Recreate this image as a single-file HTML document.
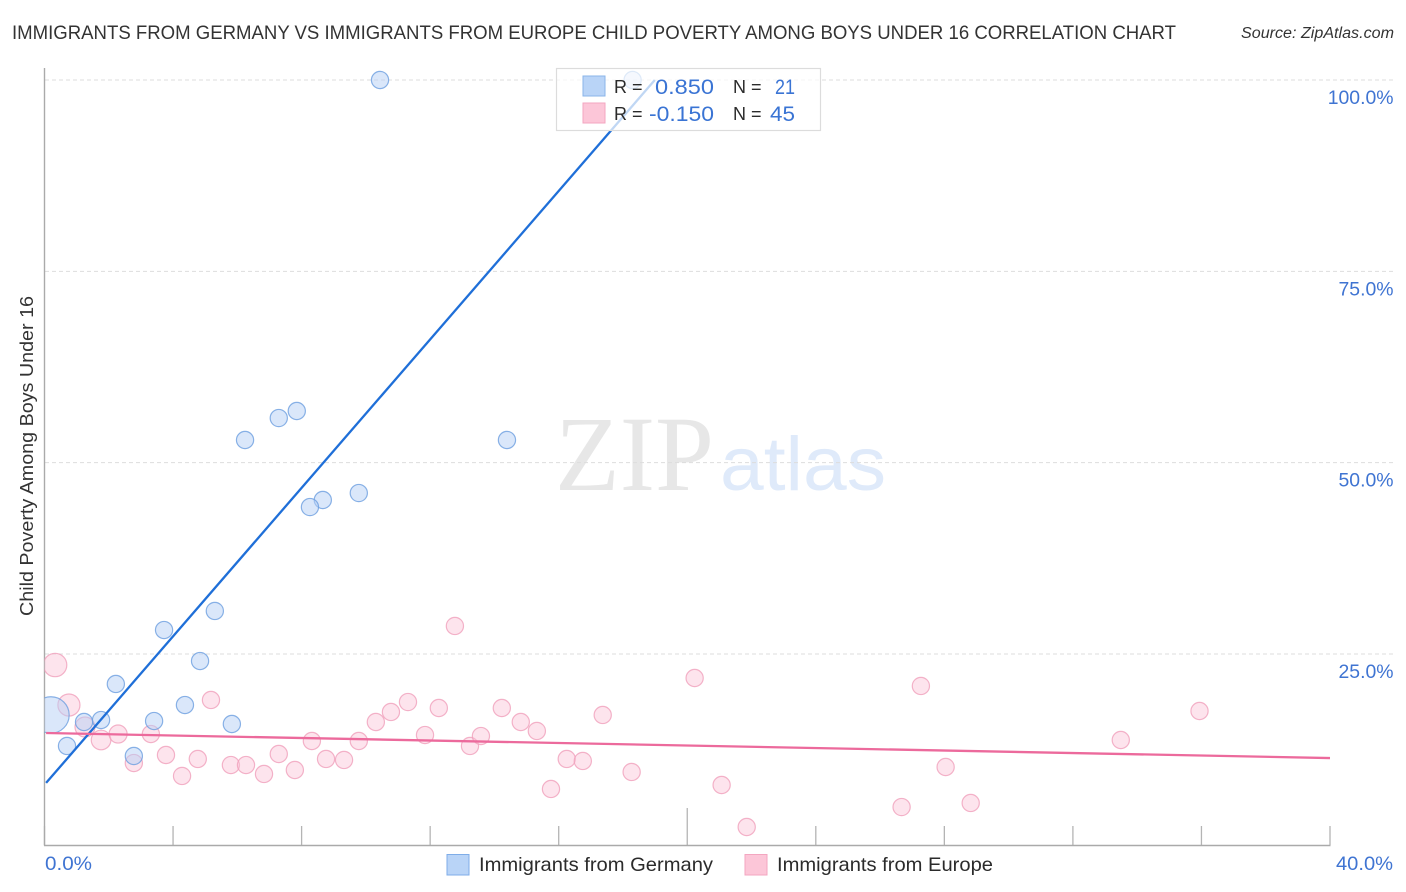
<!DOCTYPE html>
<html lang="en">
<head>
<meta charset="utf-8">
<title>Immigrants from Germany vs Immigrants from Europe Child Poverty Among Boys Under 16 Correlation Chart</title>
<style>
html,body{margin:0;padding:0;background:#fff;}
body{width:1406px;height:892px;overflow:hidden;}
svg{display:block;font-family:"Liberation Sans",sans-serif;}
</style>
</head>
<body>
<svg id="chart" width="1406" height="892" viewBox="0 0 1406 892" xmlns="http://www.w3.org/2000/svg">
  <defs>
    <clipPath id="plot-clip"><rect x="44.5" y="60" width="1350" height="785"/></clipPath>
  </defs>
  <rect x="0" y="0" width="1406" height="892" fill="#ffffff"/>
  <text x="12" y="39" font-size="19.5" fill="#333333" textLength="1164" lengthAdjust="spacingAndGlyphs">IMMIGRANTS FROM GERMANY VS IMMIGRANTS FROM EUROPE CHILD POVERTY AMONG BOYS UNDER 16 CORRELATION CHART</text>
  <text x="1241" y="38" font-size="15.5" font-style="italic" fill="#333333" textLength="153" lengthAdjust="spacingAndGlyphs">Source: ZipAtlas.com</text>

  <g>
    <text x="555" y="490" font-family="'Liberation Serif',serif" font-size="107" fill="#e7e7e7" textLength="159" lengthAdjust="spacingAndGlyphs">ZIP</text>
    <text x="720" y="490" font-size="76" fill="#dfeafa" textLength="166" lengthAdjust="spacingAndGlyphs">atlas</text>
  </g>

  <g id="grid"></g>
  <g id="y-labels"></g>
  <g id="x-ticks"></g>
  <line x1="44.5" y1="68" x2="44.5" y2="845.5" stroke="#aaaaaa" stroke-width="1.4"/>
  <line x1="44" y1="845.5" x2="1330.5" y2="845.5" stroke="#aaaaaa" stroke-width="1.4"/>
  <text transform="translate(33,616) rotate(-90)" font-size="18.5" fill="#333333" textLength="320" lengthAdjust="spacingAndGlyphs">Child Poverty Among Boys Under 16</text>

  <g id="points" clip-path="url(#plot-clip)"></g>
  <g id="trends"></g>

  <g>
    <rect x="556.5" y="68.5" width="264" height="62" fill="#ffffff" fill-opacity="0.72" stroke="#dcdcdc" stroke-width="1.2"/>
    <rect x="583" y="76" width="22" height="20" fill="#b9d4f7" stroke="#8ab4ea" stroke-width="1"/>
    <rect x="583" y="103" width="22" height="20" fill="#fcc6d8" stroke="#f3a6c0" stroke-width="1"/>
    <text x="614" y="93" font-size="18" fill="#2b2b2b">R =</text>
    <text x="614" y="120" font-size="18" fill="#2b2b2b">R =</text>
    <text x="655" y="94" font-size="21.5" fill="#3a74d4" textLength="59" lengthAdjust="spacingAndGlyphs">0.850</text>
    <text x="649" y="121" font-size="21.5" fill="#3a74d4" textLength="65" lengthAdjust="spacingAndGlyphs">-0.150</text>
    <text x="733" y="93" font-size="18" fill="#2b2b2b">N =</text>
    <text x="733" y="120" font-size="18" fill="#2b2b2b">N =</text>
    <text x="775" y="94" font-size="21.5" fill="#3a74d4" textLength="20" lengthAdjust="spacingAndGlyphs">21</text>
    <text x="770" y="121" font-size="21.5" fill="#3a74d4" textLength="25" lengthAdjust="spacingAndGlyphs">45</text>
  </g>

  <text x="45" y="870" font-size="19" fill="#3f74d2" textLength="47" lengthAdjust="spacingAndGlyphs">0.0%</text>
  <text x="1336" y="870" font-size="19" fill="#3f74d2" textLength="57" lengthAdjust="spacingAndGlyphs">40.0%</text>

  <g>
    <g>
      <rect x="447" y="854.5" width="22" height="20.5" fill="#b9d4f7" stroke="#7fade8" stroke-width="1"/>
      <text x="479" y="871" font-size="19.5" fill="#2b2b2b" textLength="234" lengthAdjust="spacingAndGlyphs">Immigrants from Germany</text>
    </g>
    <g>
      <rect x="745" y="854.5" width="22" height="20.5" fill="#fcc6d8" stroke="#f3a6c0" stroke-width="1"/>
      <text x="777" y="871" font-size="19.5" fill="#2b2b2b" textLength="216" lengthAdjust="spacingAndGlyphs">Immigrants from Europe</text>
    </g>
  </g>
</svg>
<script>
// Chart data
var yTickValues = [25, 50, 75, 100];
var yTickLabels = ['25.0%', '50.0%', '75.0%', '100.0%'];
var xTickValues = [0, 4, 8, 12, 16, 20, 24, 28, 32, 36, 40];

var germanyX = [10.44, 18.30, 6.24, 7.29, 7.85, 14.39, 9.78, 8.66, 8.26, 5.30, 3.72, 4.84, 2.22, 4.37, 3.41, 5.83, 1.76, 1.23, 0.70, 2.78, 0.20];
var germanyY = [100, 100, 52.96, 55.83, 56.75, 52.96, 46.03, 45.12, 44.20, 30.62, 28.13, 24.08, 21.08, 18.33, 16.24, 15.85, 16.37, 16.11, 12.98, 11.67, 17.03];
var germanyWeight = [1, 1, 1, 1, 1, 1, 1, 1, 1, 1, 1, 1, 1, 1, 1, 1, 1, 1, 1, 1, 4.5];

var europeX = [0.33, 0.76, 1.26, 1.76, 2.29, 2.78, 3.31, 3.78, 4.28, 4.77, 5.18, 5.80, 6.27, 6.83, 7.29, 7.79, 8.32, 8.76, 9.32, 9.78, 10.31, 10.78, 11.31, 11.84, 12.27, 12.77, 13.24, 13.58, 14.23, 14.82, 15.32, 15.76, 16.25, 16.75, 17.37, 18.27, 20.23, 21.07, 21.85, 26.67, 27.27, 28.04, 28.82, 33.49, 35.94];
var europeY = [23.56, 18.33, 15.46, 13.76, 14.54, 10.75, 14.54, 11.80, 9.06, 11.28, 18.99, 10.49, 10.49, 9.32, 11.93, 9.84, 13.63, 11.28, 11.15, 13.63, 16.11, 17.42, 18.72, 14.41, 17.94, 28.66, 12.98, 14.28, 17.94, 16.11, 14.94, 7.36, 11.28, 11.02, 17.03, 9.58, 21.86, 7.88, 2.39, 5.00, 20.82, 10.23, 5.53, 13.76, 17.55];
var europeWeight = [1.85, 1.65, 1.35, 1.3, 1.1, 1, 1, 1, 1, 1, 1, 1, 1, 1, 1, 1, 1, 1, 1, 1, 1, 1, 1, 1, 1, 1, 1, 1, 1, 1, 1, 1, 1, 1, 1, 1, 1, 1, 1, 1, 1, 1, 1, 1, 1];

var germanyTrendX = [0.05, 18.99];
var germanyTrendY = [8.15, 100];
var europeTrendX = [0.05, 40];
var europeTrendY = [14.67, 11.4];

// Axis functions
function xScale(v) { return 44.5 + v * (1330 - 44.5) / 40; }
function yScale(v) { return 845.3 - v * (845.3 - 80) / 100; }
function radius(w) { return 8.6 * Math.sqrt(w); }

var NS = 'http://www.w3.org/2000/svg';
function make(tag, parent, attrs) {
  var el = document.createElementNS(NS, tag);
  for (var k in attrs) { el.setAttribute(k, attrs[k]); }
  parent.appendChild(el);
  return el;
}

var gridGroup = document.getElementById('grid');
var labelGroup = document.getElementById('y-labels');
yTickValues.forEach(function (v, i) {
  var gl = make('line', gridGroup, { x1: 45, x2: 1393, y1: yScale(v), y2: yScale(v), stroke: '#dddddd', 'stroke-width': 1, 'stroke-dasharray': '4 3' });
  
  
  var t = make('text', labelGroup, { x: 1393.5, y: yScale(v) + 24, 'font-size': 19.4, fill: '#3f74d2', 'text-anchor': 'end' });
  t.textContent = yTickLabels[i];
  
  
});

var tickGroup = document.getElementById('x-ticks');
xTickValues.forEach(function (v) {
  var top = (v === 20) ? 808 : 826;
  var tk = make('line', tickGroup, { x1: xScale(v), x2: xScale(v), y1: top, y2: 845, stroke: '#b4b4b4', 'stroke-width': 1.3 });
  
  
});

var pointGroup = document.getElementById('points');
europeX.forEach(function (v, i) {
  var c = make('circle', pointGroup, { cx: xScale(v), cy: yScale(europeY[i]), r: radius(europeWeight[i]), fill: '#fbc4d6', 'fill-opacity': 0.45, stroke: '#f0a0bc', 'stroke-opacity': 0.8, 'stroke-width': 1.2 });
  
  
});
germanyX.forEach(function (v, i) {
  var c = make('circle', pointGroup, { cx: xScale(v), cy: yScale(germanyY[i]), r: radius(germanyWeight[i]), fill: '#b5d0f5', 'fill-opacity': 0.5, stroke: '#6d9fe0', 'stroke-opacity': 0.8, 'stroke-width': 1.2 });
  
  
});

var trendGroup = document.getElementById('trends');
var trendBlue = make('line', trendGroup, { x1: xScale(germanyTrendX[0]), y1: yScale(germanyTrendY[0]), x2: xScale(germanyTrendX[1]), y2: yScale(germanyTrendY[1]), stroke: '#1f6fd8', 'stroke-width': 2.3 });


var trendPink = make('line', trendGroup, { x1: xScale(europeTrendX[0]), y1: yScale(europeTrendY[0]), x2: xScale(europeTrendX[1]), y2: yScale(europeTrendY[1]), stroke: '#ec6a9c', 'stroke-width': 2.3 });


</script>
</body>
</html>
